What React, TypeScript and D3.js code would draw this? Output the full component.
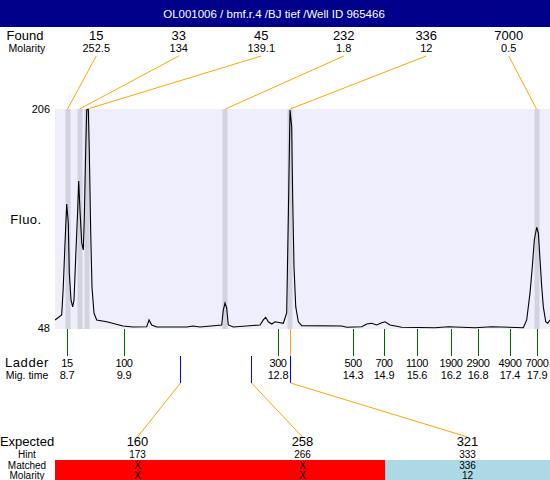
import React from "react";
import * as d3 from "d3";

const title = "OL001006 / bmf.r.4 /BJ tief /Well ID 965466";

const foundSizes = ["15", "33", "45", "232", "336", "7000"];
const foundMolarity = ["252.5", "134", "139.1", "1.8", "12", "0.5"];
const foundTimes = [8.71, 8.945, 9.1, 11.8, 13.07, 17.89];

const ladderSizes = ["15", "100", "300", "500", "700", "1100", "1900", "2900", "4900", "7000"];
const ladderMigLabels = ["8.7", "9.9", "12.8", "14.3", "14.9", "15.6", "16.2", "16.8", "17.4", "17.9"];
const ladderTimes = [8.7, 9.816, 12.83, 14.3, 14.905, 15.55, 16.217, 16.745, 17.37, 17.9];

const expectedSizes = ["160", "258", "321"];
const hintSizes = ["173", "266", "333"];
const matchedSizes = ["X", "X", "336"];
const matchedMolarity = ["X", "X", "12"];
const matchedFlags = [false, false, true];
const expectedTimes = [10.912, 12.302, 13.07];

const yTicks = [48, 206];
const timeDomain = [8.465, 18.154];

const traceTime = [
  8.465, 8.596, 8.627, 8.661, 8.694, 8.725, 8.745, 8.778, 8.811, 8.837,
  8.876, 8.909, 8.929, 8.954, 8.988, 9.019, 9.039, 9.066, 9.086, 9.117,
  9.136, 9.164, 9.189, 9.228, 9.281, 9.477, 9.796, 9.992, 10.26, 10.305,
  10.358, 10.456, 11.043, 11.166, 11.303, 11.728, 11.759, 11.793, 11.826, 11.857,
  11.955, 12.478, 12.543, 12.589, 12.64, 12.707, 12.772, 12.934, 13.0, 13.032,
  13.065, 13.098, 13.118, 13.143, 13.177, 13.228, 13.294, 14.077, 14.175, 14.469,
  14.567, 14.664, 14.762, 14.86, 14.925, 15.023, 15.252, 15.904, 16.164, 16.687,
  17.013, 17.632, 17.698, 17.763, 17.808, 17.847, 17.894, 17.926, 17.959, 17.992,
  18.023, 18.07, 18.109, 18.154,
];
const traceFluo = [
  53.8, 57.4, 77.6, 109.3, 137.5, 123.8, 87.7, 68.2, 63.2, 68.2,
  104.3, 133.1, 154.1, 133.1, 109.3, 104.3, 128.1, 176.4, 205.3, 206,
  176.4, 116.5, 77.6, 58.8, 53.8, 52.5, 49.4, 48.7, 48.9, 53.8,
  50.2, 48.7, 48.7, 49.4, 48.7, 50.2, 61.0, 66.0, 62.4, 50.2,
  48.7, 50.2, 53.8, 55.7, 52.5, 50.9, 52.5, 51.4, 58.8, 128.3,
  205.3, 193.2, 140.3, 92.2, 63.4, 52.5, 49.7, 49.4, 48.5, 48.9,
  50.9, 51.4, 50.2, 51.8, 52.5, 50.2, 48.5, 48.2, 48.9, 48.2,
  48.9, 48.2, 53.8, 73.3, 92.2, 111.5, 120.7, 116.5, 97.1, 77.8,
  63.4, 52.5, 51.4, 53.8,
];

const W = 550;
const H = 480;
const PL = 55;
const PR = 550;
const PT = 109;
const PB = 328;
const FONT = "'Liberation Sans', Arial, sans-serif";
const LABEL_X = 27;

export default function App() {
  const x = d3.scaleLinear().domain(timeDomain).range([PL, PR]);
  const y = d3.scaleLinear().domain([yTicks[0], yTicks[1]]).range([PB, PT]);
  const foundCol = d3.scaleBand<number>().domain(d3.range(foundSizes.length)).range([PL, PR]);
  const expCol = d3.scaleBand<number>().domain(d3.range(expectedSizes.length)).range([PL, PR]);

  const pts = traceTime.map((t, i) => [t, traceFluo[i]] as [number, number]);
  const line = d3
    .line<[number, number]>()
    .x((d) => x(d[0]))
    .y((d) => y(d[1]));

  const fc = (i: number) => (foundCol(i) as number) + foundCol.bandwidth() / 2;
  const ec = (i: number) => (expCol(i) as number) + expCol.bandwidth() / 2;

  const tickTop = PB + 1;
  const tickBot = 356;
  const blueBot = 383;

  return (
    <svg
      width={W}
      height={H}
      style={{ position: "absolute", left: 0, top: 0, background: "#fff" }}
      fontFamily={FONT}
    >
      <defs>
        <clipPath id="plotclip">
          <rect x={PL} y={PT} width={PR - PL} height={PB - PT + 1} />
        </clipPath>
      </defs>
      {/* header */}
      <rect x={0} y={0} width={W} height={27} fill="#00008B" />
      <text x={274} y={18} textAnchor="middle" fill="#fff" fontSize={11.5}>
        {title}
      </text>

      {/* Found rows */}
      <text x={LABEL_X - 2} y={40} textAnchor="middle" fontSize={13}>
        Found
      </text>
      <text x={LABEL_X} y={52} textAnchor="middle" fontSize={10.5}>
        Molarity
      </text>
      {foundSizes.map((s, i) => (
        <g key={"f" + i}>
          <text x={fc(i)} y={40} textAnchor="middle" fontSize={13}>
            {s}
          </text>
          <text x={fc(i)} y={52} textAnchor="middle" fontSize={11}>
            {foundMolarity[i]}
          </text>
          <line
            x1={fc(i)}
            y1={56}
            x2={x(foundTimes[i])}
            y2={PT}
            stroke="#FFA500"
            strokeWidth={1}
          />
        </g>
      ))}

      {/* plot */}
      <rect x={PL} y={PT} width={PR - PL} height={PB - PT + 1} fill="#EEEEFC" />
      {foundTimes.map((t, i) => (
        <rect
          key={"b" + i}
          x={Math.round(x(t)) - 2.5}
          y={PT}
          width={5}
          height={PB - PT + 1}
          fill="#D3D3E0"
        />
      ))}
      <path
        d={line(pts) || ""}
        fill="none"
        stroke="#000"
        strokeWidth={1.1}
        clipPath="url(#plotclip)"
      />
      {yTicks.map((v) => (
        <text key={"y" + v} x={50} y={y(v) + 4} textAnchor="end" fontSize={11}>
          {v}
        </text>
      ))}
      <text x={26} y={224} textAnchor="middle" fontSize={13} letterSpacing={0.5}>
        Fluo.
      </text>

      {/* ladder */}
      <text x={LABEL_X} y={367} textAnchor="middle" fontSize={13} letterSpacing={0.6}>
        Ladder
      </text>
      <text x={LABEL_X} y={379} textAnchor="middle" fontSize={10.5}>
        Mig. time
      </text>
      {ladderTimes.map((t, i) => (
        <g key={"l" + i}>
          <line
            x1={Math.round(x(t)) + 0.5}
            x2={Math.round(x(t)) + 0.5}
            y1={tickTop}
            y2={tickBot}
            stroke="#006400"
            shapeRendering="crispEdges"
          />
          <text x={x(t)} y={367} textAnchor="middle" fontSize={11} letterSpacing={-0.4}>
            {ladderSizes[i]}
          </text>
          <text x={x(t)} y={379} textAnchor="middle" fontSize={11} letterSpacing={-0.2}>
            {ladderMigLabels[i]}
          </text>
        </g>
      ))}

      {/* expected markers */}
      {expectedTimes.map((t, i) => {
        const px = Math.round(x(t)) + 0.5;
        return (
          <g key={"e" + i}>
            {matchedFlags[i] && (
              <line
                x1={px}
                x2={px}
                y1={tickTop}
                y2={tickBot}
                stroke="#FFA500"
                shapeRendering="crispEdges"
              />
            )}
            <line
              x1={px}
              x2={px}
              y1={tickBot}
              y2={blueBot}
              stroke="#0000FF"
              shapeRendering="crispEdges"
            />
            <line x1={px} y1={blueBot} x2={ec(i)} y2={437} stroke="#FFA500" strokeWidth={1} />
          </g>
        );
      })}

      {/* bottom table */}
      {expectedSizes.map((s, i) => (
        <rect
          key={"r" + i}
          x={expCol(i) as number}
          y={460}
          width={expCol.bandwidth()}
          height={20}
          fill={matchedFlags[i] ? "#ADD8E6" : "#FF0000"}
        />
      ))}
      <text x={LABEL_X} y={446} textAnchor="middle" fontSize={13}>
        Expected
      </text>
      <text x={LABEL_X} y={458} textAnchor="middle" fontSize={10}>
        Hint
      </text>
      <text x={LABEL_X} y={468.5} textAnchor="middle" fontSize={10}>
        Matched
      </text>
      <text x={LABEL_X} y={478.5} textAnchor="middle" fontSize={10}>
        Molarity
      </text>
      {expectedSizes.map((s, i) => (
        <g key={"t" + i}>
          <text x={ec(i)} y={446} textAnchor="middle" fontSize={13}>
            {s}
          </text>
          <text x={ec(i)} y={458} textAnchor="middle" fontSize={10}>
            {hintSizes[i]}
          </text>
          <text x={ec(i)} y={468.5} textAnchor="middle" fontSize={10}>
            {matchedSizes[i]}
          </text>
          <text x={ec(i)} y={478.5} textAnchor="middle" fontSize={10}>
            {matchedMolarity[i]}
          </text>
        </g>
      ))}
    </svg>
  );
}
